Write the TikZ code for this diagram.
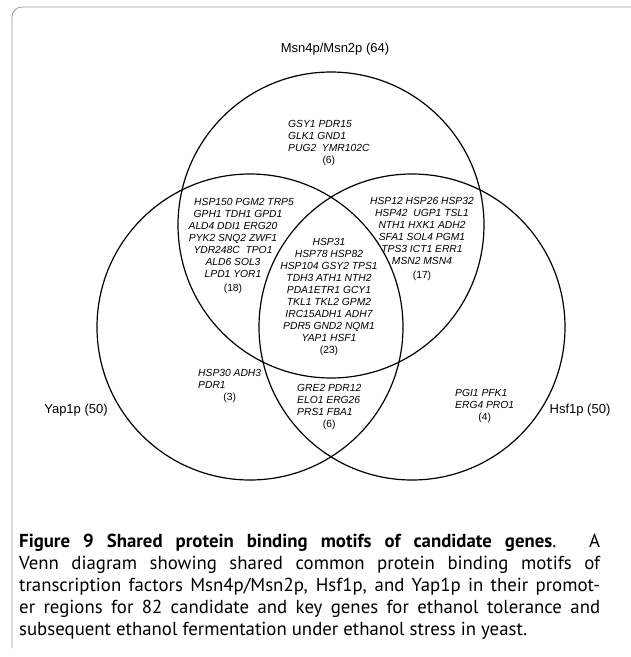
\documentclass[tikz,border=0pt]{standalone}
\usepackage{fontspec}
\setmainfont{Liberation Sans}
\newfontfamily\capfont{PT Sans}
\begin{document}
\begin{tikzpicture}[x=1pt,y=-1pt,
  venn/.style={line width=1.2pt, draw=black},
  gene/.style={font=\fontsize{10.3}{12}\selectfont\itshape, inner sep=0pt, align=center},
  setlabel/.style={font=\fontsize{13}{15}\selectfont, inner sep=0pt},
  capline/.style={font={\capfont\fontsize{18.8pt}{22pt}\selectfont}, inner sep=0pt, anchor=base west},
  frame/.style={draw=black!40, line width=0.8pt, rounded corners=10pt}]
\useasboundingbox (0,0) rectangle (631,657);
\fill[white] (0,0) rectangle (631,657);
\draw[frame] (12,648) -- (12,7) -- (640,7);
% circles
\coordinate (cM) at (331,225);
\coordinate (cY) at (250,327);
\coordinate (cH) at (412,327);
\draw[venn] (cM) circle[radius=153pt];
\draw[venn] (cY) circle[radius=153pt];
\draw[venn] (cH) circle[radius=153pt];
% set labels
\node[setlabel] (lM) at (335,49) {Msn4p/Msn2p (64)};
\node[setlabel] (lY) at (76,410) {Yap1p (50)};
\node[setlabel] (lH) at (580,410) {Hsf1p (50)};
% regions
\node[gene, anchor=north west] (monly) at (288,119) {\begin{tabular}{@{}l@{}}GSY1 PDR15\\GLK1 GND1\\PUG2\ \ YMR102C\\\multicolumn{1}{@{}c@{}}{\upshape(6)}\end{tabular}};
\node[gene, anchor=north] (my) at (233,198) {\hspace*{22pt}HSP150 PGM2 TRP5\\\hspace*{10pt}GPH1 TDH1 GPD1\\ALD4 DDI1 ERG20\\PYK2 SNQ2 ZWF1\\YDR248C\ \ TPO1\\ALD6 SOL3\\LPD1 YOR1\\[2pt]\upshape(18)};
\node[gene, anchor=north] (mh) at (422,197) {HSP12 HSP26 HSP32\\HSP42\ \ UGP1 TSL1\\NTH1 HXK1 ADH2\\SFA1 SOL4 PGM1\\TPS3 ICT1 ERR1\\MSN2 MSN4\\[2pt]\upshape(17)};
\node[gene, anchor=north] (all) at (329,238) {HSP31\\HSP78 HSP82\\HSP104 GSY2 TPS1\\TDH3 ATH1 NTH2\\PDA1ETR1 GCY1\\TKL1 TKL2 GPM2\\IRC15ADH1 ADH7\\PDR5 GND2 NQM1\\YAP1 HSF1\\\upshape(23)};
\node[gene, anchor=north west] (yonly) at (198,368) {\begin{tabular}{@{}l@{}}HSP30 ADH3\\PDR1\\\multicolumn{1}{@{}c@{}}{\upshape(3)}\end{tabular}};
\node[gene, anchor=north west] (yh) at (297,383) {\begin{tabular}{@{}l@{}}GRE2 PDR12\\ELO1 ERG26\\PRS1 FBA1\\\multicolumn{1}{@{}c@{}}{\upshape(6)}\end{tabular}};
\node[gene, anchor=north west] (honly) at (455,388) {\begin{tabular}{@{}l@{}}PGI1 PFK1\\ERG4 PRO1\\\multicolumn{1}{@{}c@{}}{\upshape(4)}\end{tabular}};
% caption
\node[capline] (cap1) at (19,547) {\makebox[581pt][s]{\textbf{Figure 9 Shared protein binding motifs of candidate genes}. A}};
\node[capline] (cap2) at (19,569) {\makebox[581pt][s]{Venn diagram showing shared common protein binding motifs of}};
\node[capline] (cap3) at (19,591) {\makebox[581pt][s]{transcription factors Msn4p/Msn2p, Hsf1p, and Yap1p in their promot-}};
\node[capline] (cap4) at (19,613) {\makebox[581pt][s]{er regions for 82 candidate and key genes for ethanol tolerance and}};
\node[capline] (cap5) at (19,635) {subsequent ethanol fermentation under ethanol stress in yeast.};
\end{tikzpicture}
\end{document}
